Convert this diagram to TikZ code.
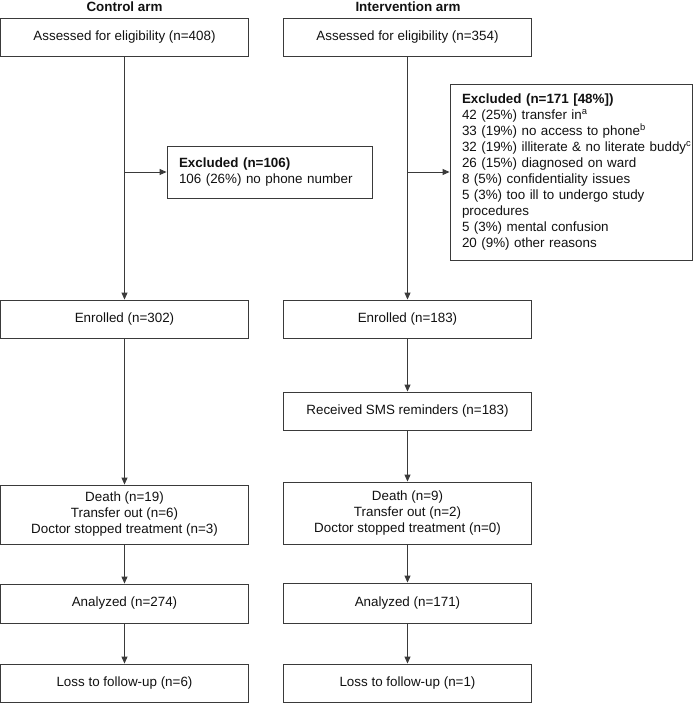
\documentclass[tikz,border=0pt]{standalone}
\usepackage{fontspec}
\setmainfont{Liberation Sans}
\usetikzlibrary{arrows.meta}
\definecolor{linecol}{HTML}{3A3A3A}
\definecolor{txtcol}{HTML}{111111}
\newcommand{\fsz}{\fontsize{13.4}{16}\selectfont}
\begin{document}
\begin{tikzpicture}[x=1pt,y=-1pt,
  box/.style={draw=linecol, line width=0.9pt, rectangle, align=center, inner sep=0pt,
    font=\fsz, text=txtcol, minimum width=248pt},
  exbox/.style={draw=linecol, line width=0.9pt, rectangle, align=left, inner xsep=12pt, inner ysep=0pt,
    font=\fsz, text=txtcol},
  title/.style={font=\fsz\bfseries, text=txtcol, inner sep=0pt},
  arr/.style={draw=linecol, line width=0.9pt, -{Triangle[length=7pt,width=6pt]}},
  ln/.style={draw=linecol, line width=0.9pt}
]
\useasboundingbox (0,0) rectangle (693,703);

% titles
\node[title] (tl) at (124.5,7) {Control arm};
\node[title] (tr) at (408,7) {Intervention arm};

% control arm
\node[box, minimum height=38pt] (L1) at (124.5,37) {Assessed for eligibility (n=408)};
\node[exbox, text width=181pt, minimum height=52pt] (LE) at (269.5,172)
  {\textbf{Excluded (n=106)}\\106 (26\%) no phone number};
\node[box, minimum height=38pt] (L2) at (124.5,319) {Enrolled (n=302)};
\node[box, minimum height=59pt] (L3) at (124.5,514.5) {Death (n=19)\\Transfer out (n=6)\\Doctor stopped treatment (n=3)};
\node[box, minimum height=39pt] (L4) at (124.5,603.5) {Analyzed (n=274)};
\node[box, minimum height=38pt] (L5) at (124.5,683) {Loss to follow-up (n=6)};

% intervention arm
\node[box, minimum height=38pt] (R1) at (407.5,37) {Assessed for eligibility (n=354)};
\node[exbox, text width=218pt, minimum height=176pt] (RE) at (571,172)
  {\mbox{\textbf{Excluded (n=171 [48\%])}}\\
   \mbox{42 (25\%) transfer in\textsuperscript{a}}\\
   \mbox{33 (19\%) no access to phone\textsuperscript{b}}\\
   \mbox{32 (19\%) illiterate \& no literate buddy\textsuperscript{c}}\\
   \mbox{26 (15\%) diagnosed on ward}\\
   \mbox{8 (5\%) confidentiality issues}\\
   \mbox{5 (3\%) too ill to undergo study}\\
   \mbox{procedures}\\
   \mbox{5 (3\%) mental confusion}\\
   \mbox{20 (9\%) other reasons}};
\node[box, minimum height=38pt] (R2) at (407.5,319) {Enrolled (n=183)};
\node[box, minimum height=38pt] (RS) at (407.5,411) {Received SMS reminders (n=183)};
\node[box, minimum height=62pt] (R3) at (407.5,513) {Death (n=9)\\Transfer out (n=2)\\Doctor stopped treatment (n=0)};
\node[box, minimum height=40pt] (R4) at (407.5,603) {Analyzed (n=171)};
\node[box, minimum height=38pt] (R5) at (407.5,683) {Loss to follow-up (n=1)};

% branch points
\coordinate (lb) at (L1.south |- LE.west);
\coordinate (rb) at (R1.south |- RE.west);

% connectors control
\draw[arr] (L1.south) -- (L2.north);
\draw[arr] (lb) -- (LE.west);
\draw[arr] (L2.south) -- (L3.north);
\draw[arr] (L3.south) -- (L4.north);
\draw[arr] (L4.south) -- (L5.north);

% connectors intervention
\draw[arr] (R1.south) -- (R2.north);
\draw[arr] (rb) -- (RE.west);
\draw[arr] (R2.south) -- (RS.north);
\draw[arr] (RS.south) -- (R3.north);
\draw[arr] (R3.south) -- (R4.north);
\draw[arr] (R4.south) -- (R5.north);
\end{tikzpicture}
\end{document}
